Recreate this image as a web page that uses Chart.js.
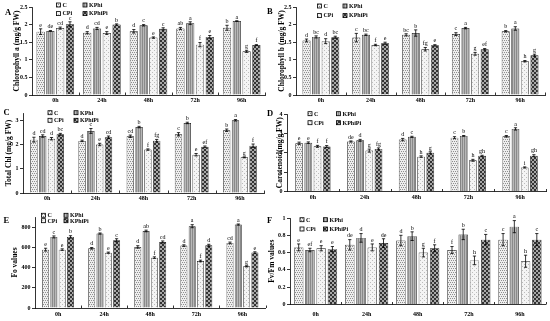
<!DOCTYPE html>
<html>
<head>
<meta charset="utf-8">
<script src="https://cdn.jsdelivr.net/npm/chart.js@4.4.0/dist/chart.umd.min.js"></script>
<style>
body { margin: 0; background: #fff; width: 550px; height: 321px; position: relative; overflow: hidden; }
canvas { position: absolute; }
.tag { position: absolute; font: bold 8.5px "Liberation Serif", serif; line-height: 1; color: #000; }
</style>
</head>
<body>
<canvas id="cA" width="268" height="107" style="left:0;top:0"></canvas>
<canvas id="cB" width="284" height="107" style="left:266px;top:0"></canvas>
<canvas id="cC" width="268" height="110" style="left:0;top:105px"></canvas>
<canvas id="cD" width="284" height="110" style="left:266px;top:105px"></canvas>
<canvas id="cE" width="268" height="111" style="left:0;top:210px"></canvas>
<canvas id="cF" width="284" height="111" style="left:266px;top:210px"></canvas>
<div class="tag" style="left:5px;top:8px">A</div>
<div class="tag" style="left:267px;top:7px">B</div>
<div class="tag" style="left:3.5px;top:107.6px">C</div>
<div class="tag" style="left:267px;top:108.6px">D</div>
<div class="tag" style="left:3.5px;top:215.6px">E</div>
<div class="tag" style="left:267px;top:215.6px">F</div>
<script>
const times = ['0h', '24h', '48h', '72h', '96h'];
const treatments = ['C', 'KPhi', 'CPi', 'KPhiPi'];

// values per treatment (C, KPhi, CPi, KPhiPi) over the 5 times
const chlA = [[1.80, 1.77, 1.81, 1.89, 1.91], [1.82, 1.89, 1.98, 2.04, 2.10], [1.90, 1.76, 1.63, 1.43, 1.24], [2.01, 2.00, 1.88, 1.65, 1.42]];
const chlAErr = [[0.08, 0.03, 0.05, 0.03, 0.07], [0.01, 0.03, 0.02, 0.04, 0.01], [0.03, 0.04, 0.02, 0.06, 0.03], [0.07, 0.02, 0.03, 0.04, 0.01]];
const chlASig = [['e', 'd', 'd', 'ab', 'b'], ['de', 'cd', 'c', 'a', 'a'], ['cd', 'e', 'e', 'f', 'g'], ['c', 'b', 'c', 'e', 'f']];

const chlB = [[1.55, 1.63, 1.71, 1.73, 1.81], [1.65, 1.71, 1.76, 1.90, 1.89], [1.53, 1.42, 1.30, 1.17, 0.96], [1.64, 1.47, 1.41, 1.30, 1.13]];
const chlBErr = [[0.04, 0.12, 0.03, 0.04, 0.02], [0.03, 0.02, 0.09, 0.02, 0.05], [0.07, 0.02, 0.05, 0.04, 0.02], [0.03, 0.03, 0.02, 0.02, 0.03]];
const chlBSig = [['d', 'c', 'bc', 'c', 'b'], ['bc', 'bc', 'b', 'a', 'a'], ['d', 'f', 'fg', 'g', 'h'], ['bc', 'e', 'e', 'ef', 'g']];

const totChl = [[2.20, 2.15, 2.34, 2.42, 2.59], [2.35, 2.56, 2.72, 2.89, 3.00], [2.24, 2.00, 1.79, 1.58, 1.47], [2.42, 2.30, 2.16, 1.91, 1.95]];
const totChlErr = [[0.10, 0.03, 0.05, 0.07, 0.05], [0.05, 0.10, 0.03, 0.03, 0.03], [0.05, 0.05, 0.03, 0.05, 0.02], [0.04, 0.05, 0.05, 0.03, 0.07]];
const totChlSig = [['d', 'd', 'cd', 'c', 'b'], ['cd', 'c', 'b', 'b', 'a'], ['d', 'e', 'f', 'e', 'g'], ['bc', 'cd', 'fg', 'ef', 'f']];

const carot = [[2.49, 2.58, 2.68, 2.78, 2.85], [2.52, 2.64, 2.82, 2.87, 3.23], [2.33, 2.11, 1.80, 1.61, 1.24], [2.32, 2.20, 2.00, 1.84, 1.85]];
const carotErr = [[0.06, 0.03, 0.06, 0.05, 0.04], [0.04, 0.05, 0.03, 0.02, 0.06], [0.05, 0.08, 0.04, 0.05, 0.03], [0.05, 0.05, 0.05, 0.03, 0.05]];
const carotSig = [['e', 'de', 'd', 'c', 'c'], ['e', 'd', 'c', 'b', 'a'], ['f', 'g', 'h', 'h', 'i'], ['f', 'fg', 'g', 'gh', 'gh']];

const fo = [[577, 590, 604, 617, 644], [703, 736, 762, 809, 825], [577, 547, 498, 465, 412], [703, 670, 653, 620, 548]];
const foErr = [[14, 8, 12, 8, 8], [10, 6, 8, 15, 6], [8, 6, 8, 8, 6], [12, 15, 10, 10, 8]];
const foSig = [['e', 'd', 'd', 'd', 'cd'], ['c', 'b', 'ab', 'a', 'a'], ['e', 'e', 'f', 'f', 'g'], ['b', 'c', 'cd', 'd', 'e']];

const fvfm = [[0.66, 0.69, 0.74, 0.63, 0.75], [0.63, 0.77, 0.79, 0.81, 0.90], [0.65, 0.66, 0.60, 0.51, 0.50], [0.64, 0.71, 0.65, 0.75, 0.75]];
const fvfmErr = [[0.04, 0.06, 0.06, 0.04, 0.07], [0.02, 0.05, 0.05, 0.06, 0.07], [0.03, 0.04, 0.05, 0.05, 0.07], [0.03, 0.05, 0.04, 0.06, 0.07]];
const fvfmSig = [['e', 'de', 'd', 'f', 'c'], ['ef', 'd', 'b', 'b', 'a'], ['e', 'e', 'g', 'h', 'h'], ['e', 'de', 'f', 'c', 'c']];

function pat(bg, fg, draw) {
    const c = document.createElement('canvas');
    c.width = 4; c.height = 4;
    const g = c.getContext('2d');
    g.fillStyle = bg; g.fillRect(0, 0, 4, 4);
    g.fillStyle = fg; draw(g);
    return g.createPattern(c, 'repeat');
}
const fills = [
    pat('#eeeeee', '#8e8e8e', g => { g.fillRect(0, 0, 1, 1); g.fillRect(2, 0, 1, 1); g.fillRect(1, 2, 1, 1); g.fillRect(3, 2, 1, 1); }),
    pat('#b8b8b8', '#8a8a8a', g => { g.fillRect(0, 0, 1, 4); g.fillRect(2, 0, 1, 4); }),
    pat('#f4f4f4', '#bcbcbc', g => { g.fillRect(0, 0, 1, 1); g.fillRect(2, 2, 1, 1); }),
    pat('#a8a8a8', '#333333', g => { g.fillRect(0, 0, 2, 2); g.fillRect(2, 2, 2, 2); })
];

// panel layout, absolute page coordinates
const panels = [
    { id: 'cA', vals: chlA, err: chlAErr, sig: chlASig, title: 'Chlorophyll a (mg/g FW)', max: 2.5, step: 0.5,
      cx: 0, cy: 0, w: 268, h: 107, left: 32, right: 265, top: 7, bottom: 95, titleX: 17, labelPad: 2, cat: 0.84,
      lx: [56.5, 83], ly: [5, 13.6] },
    { id: 'cB', vals: chlB, err: chlBErr, sig: chlBSig, title: 'Chlorophyll b (mg/g FW)', max: 2.5, step: 0.5,
      cx: 266, cy: 0, w: 284, h: 107, left: 296, right: 545, top: 7, bottom: 95, titleX: 282, labelPad: 2, cat: 0.77,
      lx: [317.5, 343], ly: [6, 15.6] },
    { id: 'cC', vals: totChl, err: totChlErr, sig: totChlSig, title: 'Total Chl (mg/g FW)', max: 3.3, step: 1,
      cx: 0, cy: 105, w: 268, h: 110, left: 23, right: 264, top: 113, bottom: 193, titleX: 9, labelPad: 1.5, cat: 0.73,
      lx: [48, 74], ly: [112.7, 120.3] },
    { id: 'cD', vals: carot, err: carotErr, sig: carotSig, title: 'Carotenoid(mg/g FW)', max: 4, step: 1,
      cx: 266, cy: 105, w: 284, h: 110, left: 287, right: 546, top: 114, bottom: 191.5, titleX: 280, labelPad: 2.5, cat: 0.71,
      lx: [308, 336.5], ly: [113.7, 122.7] },
    { id: 'cE', vals: fo, err: foErr, sig: foSig, title: 'Fo values', max: 900, step: 100,
      cx: 0, cy: 210, w: 268, h: 111, left: 35, right: 265.5, top: 217, bottom: 308, titleX: 15, labelPad: 3, cat: 0.72,
      lx: [41.5, 64], ly: [215.3, 220.7] },
    { id: 'cF', vals: fvfm, err: fvfmErr, sig: fvfmSig, title: 'Fv/Fm values', max: 1, step: 0.2,
      cx: 266, cy: 210, w: 284, h: 111, left: 290, right: 545.5, top: 218, bottom: 304.5, titleX: 272, labelPad: 6, cat: 0.88,
      lx: [300, 323.5], ly: [219.7, 229] }
];

const serif = '"Liberation Serif", "Times New Roman", serif';

// error bars + significance letters
const errPlugin = {
    id: 'errbars',
    afterDatasetsDraw(chart) {
        const ctx = chart.ctx, y = chart.scales.y;
        ctx.save();
        ctx.strokeStyle = '#000';
        ctx.lineWidth = 0.8;
        ctx.fillStyle = '#000';
        ctx.font = '6px ' + serif;
        ctx.textAlign = 'center';
        ctx.textBaseline = 'bottom';
        chart.data.datasets.forEach((ds, k) => {
            chart.getDatasetMeta(k).data.forEach((bar, i) => {
                const v = ds.data[i], e = ds.err[i];
                const yt = y.getPixelForValue(v + e), yb = y.getPixelForValue(v - e);
                ctx.beginPath();
                ctx.moveTo(bar.x, yb); ctx.lineTo(bar.x, yt);
                ctx.moveTo(bar.x - 1.6, yt); ctx.lineTo(bar.x + 1.6, yt);
                ctx.moveTo(bar.x - 1.6, yb); ctx.lineTo(bar.x + 1.6, yb);
                ctx.stroke();
                ctx.fillText(ds.sig[i], bar.x, yt - 0.8);
            });
        });
        ctx.restore();
    }
};

// small inward marks between the time groups
const sepPlugin = {
    id: 'seps',
    afterDraw(chart) {
        const ctx = chart.ctx, a = chart.chartArea;
        const cw = (a.right - a.left) / times.length;
        ctx.save();
        ctx.strokeStyle = '#000';
        ctx.lineWidth = 0.8;
        ctx.beginPath();
        for (let k = 1; k <= times.length; k++) {
            const x = Math.round(a.left + k * cw) + 0.5;
            ctx.moveTo(x, a.bottom); ctx.lineTo(x, a.bottom - 2.5);
        }
        ctx.stroke();
        ctx.restore();
    }
};

// two-column legend inside the plot
const legendPlugin = {
    id: 'boxlegend',
    afterDraw(chart) {
        const p = panels.find(q => q.id === chart.canvas.id);
        const ctx = chart.ctx;
        ctx.save();
        ctx.font = 'bold 6px ' + serif;
        ctx.textBaseline = 'middle';
        ctx.fillStyle = '#000';
        treatments.forEach((t, k) => {
            const x = p.lx[k % 2] - p.cx, y = p.ly[Math.floor(k / 2)] - p.cy;
            ctx.fillStyle = fills[k];
            ctx.fillRect(x, y - 2, 4, 4);
            ctx.strokeStyle = '#000';
            ctx.lineWidth = 0.8;
            ctx.strokeRect(x, y - 2, 4, 4);
            ctx.fillStyle = '#000';
            ctx.fillText(t, x + 6, y + 0.3);
        });
        ctx.restore();
    }
};

panels.forEach(p => {
    new Chart(document.getElementById(p.id), {
        type: 'bar',
        data: {
            labels: times,
            datasets: treatments.map((t, k) => ({
                label: t,
                data: p.vals[k],
                err: p.err[k],
                sig: p.sig[k],
                backgroundColor: fills[k],
                borderColor: '#111',
                borderWidth: 0.7,
                categoryPercentage: p.cat,
                barPercentage: 0.84
            }))
        },
        options: {
            responsive: false,
            animation: false,
            events: [],
            layout: { padding: { left: 0, right: p.cx + p.w - p.right, top: p.top - p.cy, bottom: 0 } },
            plugins: { legend: { display: false }, tooltip: { enabled: false } },
            scales: {
                x: {
                    grid: { display: false, drawTicks: false, tickLength: 0 },
                    border: { color: '#000', width: 0.8 },
                    ticks: { color: '#000', padding: p.labelPad, maxRotation: 0, autoSkip: false, font: { family: serif, size: 6, weight: 'bold' } },
                    afterFit: s => { s.height = p.cy + p.h - p.bottom; }
                },
                y: {
                    min: 0, max: p.max, bounds: 'data',
                    ticks: {
                        stepSize: p.step, includeBounds: false, color: '#000', padding: 1.5,
                        font: { family: serif, size: 6, weight: 'bold' },
                        callback: v => String(+v.toFixed(2))
                    },
                    grid: { drawOnChartArea: false, drawTicks: true, tickLength: 3, color: '#000', lineWidth: 0.8 },
                    border: { color: '#000', width: 0.8 },
                    title: {
                        display: true, text: p.title, color: '#000',
                        font: { family: serif, size: 7.5, weight: 'bold', lineHeight: 1.2 },
                        padding: { top: p.titleX - p.cx - 4.5, bottom: 0 }
                    },
                    afterFit: s => { s.width = p.left - p.cx; }
                }
            }
        },
        plugins: [errPlugin, sepPlugin, legendPlugin]
    });
});
</script>
</body>
</html>
